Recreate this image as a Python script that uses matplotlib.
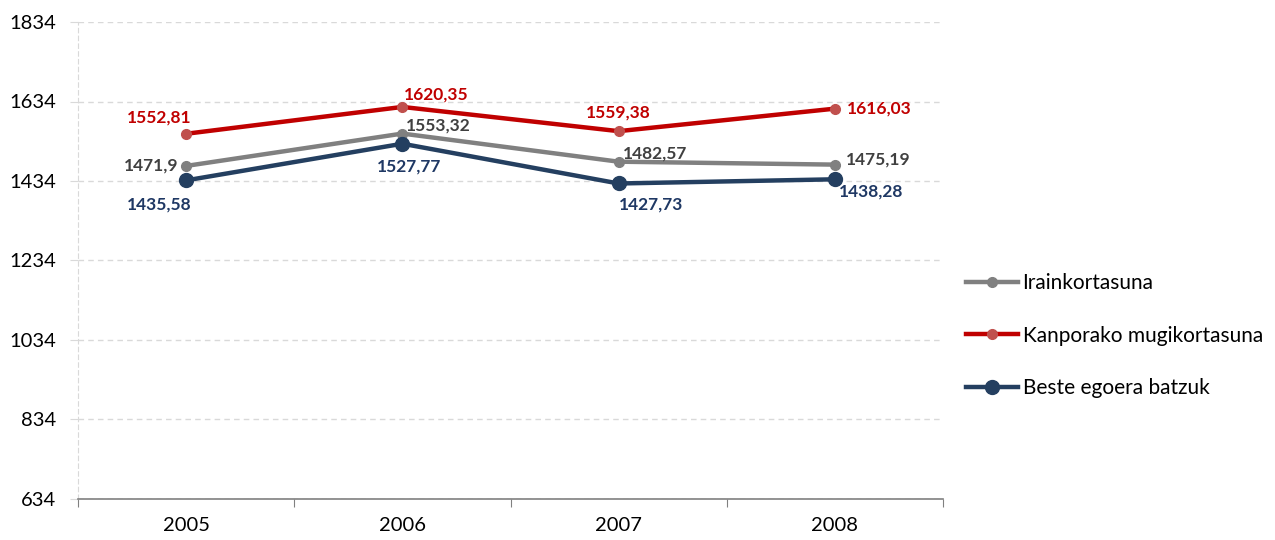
import matplotlib
matplotlib.use("Agg")
import matplotlib.pyplot as plt

plt.rcParams['font.family'] = ['Lato', 'DejaVu Sans']

# data
years = ['2005', '2006', '2007', '2008']
iraink = [1471.9, 1553.32, 1482.57, 1475.19]
kanpo = [1552.81, 1620.35, 1559.38, 1616.03]
beste = [1435.58, 1527.77, 1427.73, 1438.28]
names = ['Iraink ortasuna'.replace(' ', ''), 'Kanporako mugikortasuna', 'Beste egoera batzuk']
yticks = [634, 834, 1034, 1234, 1434, 1634, 1834]

def fmt(v):
    s = ('%.2f' % v).rstrip('0').rstrip('.')
    return s.replace('.', ',')

fig = plt.figure(figsize=(12.75, 5.4), dpi=100)
ax = fig.add_axes([78/1275, 1-499/540, 865/1275, 477/540])

x = list(range(len(years)))
ax.plot(x, iraink, color='#808080', lw=3.2, marker='o', ms=7,
        mfc='#808080', mec='#808080', label=names[0], zorder=3)
ax.plot(x, kanpo, color='#C00000', lw=3.2, marker='o', ms=7,
        mfc='#C0504D', mec='#C0504D', label=names[1], zorder=3)
ax.plot(x, beste, color='#243F60', lw=3.2, marker='o', ms=10,
        mfc='#243F60', mec='#243F60', label=names[2], zorder=4)

# label offsets in pixels (dx, dy, ha)
off_k = [(-27, 16, 'center'), (34, 12, 'center'), (0, 19, 'center'), (12, 0, 'left')]
off_i = [(-8, 0, 'right'), (4, 8, 'left'), (4, 8, 'left'), (11, 5, 'left')]
off_b = [(-27, -24, 'center'), (7, -23, 'center'), (32, -21, 'center'), (36, -12, 'center')]

for vals, offs, col in [(kanpo, off_k, '#C00000'), (iraink, off_i, '#404040'),
                        (beste, off_b, '#1F3864')]:
    for xi, v, (dx, dy, ha) in zip(x, vals, offs):
        ax.annotate(fmt(v), (xi, v), xytext=(dx*0.72, dy*0.72),
                    textcoords='offset points', ha=ha, va='center',
                    fontsize=12.5, fontweight='bold', color=col, zorder=5)

ax.set_xlim(-0.5, 3.5)
ax.set_ylim(634, 1834)
ax.set_yticks(yticks)
ax.set_yticklabels([str(t) for t in yticks], fontsize=14.5, color='#000000')
ax.grid(axis='y', color='#D9D9D9', ls=(0, (4, 3)), lw=1)
ax.tick_params(axis='y', length=6, color='#D9D9D9', pad=10)

ax.set_xticks([i - 0.5 for i in range(len(years) + 1)])
ax.set_xticklabels([])
ax.set_xticks(x, minor=True)
ax.set_xticklabels(years, minor=True, fontsize=14.5)
ax.tick_params(axis='x', which='major', length=6, color='#808080', direction='out')
ax.tick_params(axis='x', which='minor', length=0, pad=13)

for s in ['top', 'right']:
    ax.spines[s].set_visible(False)
ax.spines['bottom'].set_color('#808080')
ax.spines['bottom'].set_linewidth(1.2)
ax.spines['left'].set_color('#D9D9D9')
ax.spines['left'].set_linestyle((0, (4, 3)))

leg = fig.legend(loc='upper left', bbox_to_anchor=(958/1275, 1-265/540),
                 frameon=False, fontsize=15, labelspacing=1.55,
                 handlelength=2.5, handletextpad=0.2, borderaxespad=0)

fig.savefig('out.png', dpi=100)
